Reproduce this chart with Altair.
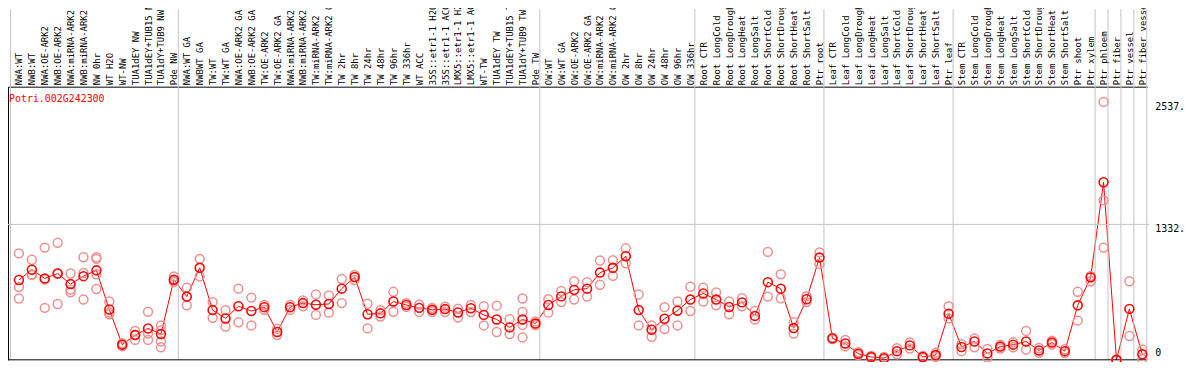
import json
import altair as alt
import pandas as pd

gene = "Potri.002G242300"

labels = [
    "NWA:WT", "NWB:WT", "NWA:OE-ARK2", "NWB:OE-ARK2", "NWA:miRNA-ARK2", "NWB:miRNA-ARK2",
    "NW 0hr", "WT H2O", "WT-NW", "TUA1dEY NW", "TUA1dEY+TUB15 NW", "TUA1dY+TUB9 NW", "Pde NW",
    "NWA:WT GA", "NWBWT GA", "TW:WT", "TW:WT GA", "NWA:OE-ARK2 GA", "NWB:OE-ARK2 GA",
    "TW:OE-ARK2", "TW:OE-ARK2 GA", "NWA:miRNA-ARK2 GA", "NWB:miRNA-ARK2 GA", "TW:miRNA-ARK2",
    "TW:miRNA-ARK2 GA", "TW 2hr", "TW 8hr", "TW 24hr", "TW 48hr", "TW 96hr", "TW 336hr",
    "WT ACC", "35S::etr1-1 H2O", "35S::etr1-1 ACC", "LMX5::etr1-1 H2O", "LMX5::etr1-1 ACC",
    "WT-TW", "TUA1dEY TW", "TUA1dEY+TUB15 TW", "TUA1dY+TUB9 TW", "Pde TW",
    "OW:WT", "OW:WT GA", "OW:OE-ARK2", "OW:OE-ARK2 GA", "OW:miRNA-ARK2", "OW:miRNA-ARK2 GA",
    "OW 2hr", "OW 8hr", "OW 24hr", "OW 48hr", "OW 96hr", "OW 336hr",
    "Root CTR", "Root LongCold", "Root LongDrought", "Root LongHeat", "Root LongSalt",
    "Root ShortCold", "Root ShortDrought", "Root ShortHeat", "Root ShortSalt", "Ptr root",
    "Leaf CTR", "Leaf LongCold", "Leaf LongDrought", "Leaf LongHeat", "Leaf LongSalt",
    "Leaf ShortCold", "Leaf ShortDrought", "Leaf ShortHeat", "Leaf ShortSalt", "Ptr leaf",
    "Stem CTR", "Stem LongCold", "Stem LongDrought", "Stem LongHeat", "Stem LongSalt",
    "Stem ShortCold", "Stem ShortDrought", "Stem ShortHeat", "Stem ShortSalt", "Ptr shoot",
    "Ptr xylem", "Ptr phloem", "Ptr fiber", "Ptr vessel", "Ptr fiber vessel",
]

group_sizes = [13, 28, 12, 10, 10, 11, 1, 1, 1, 1]

means = [
    785, 886, 801, 849, 745, 823, 880, 495, 149, 243, 309, 253, 788,
    622, 905, 489, 407, 527, 480, 518, 274, 518, 558, 542, 549, 700, 814, 448, 457, 574,
    539, 511, 492, 499, 466, 508, 442, 397, 319, 397, 357,
    539, 624, 688, 700, 858, 905, 1019, 489, 296, 404, 483, 593,
    653, 593, 520, 565, 432, 764, 700, 312, 596, 1006,
    211, 161, 60, 28, 16, 85, 142, 28, 47, 454,
    126, 180, 63, 130, 149, 180, 92, 170, 85, 536, 811,
    1747, 0, 501, 54,
]

reps = [
    [1047, 716, 603], [984, 835, 840], [1104, 511, 790], [1151, 549, 850], [849, 691, 665],
    [1009, 854, 593], [1009, 993, 842, 697], [574, 448, 465], [164, 132, 150], [284, 196, 248],
    [473, 258, 196], [338, 290, 180, 123], [820, 779, 765],
    [710, 536], [993, 820], [568, 413], [489, 328], [700, 369], [612, 338], [539, 492],
    [306, 243], [539, 492], [584, 527], [643, 442], [634, 464], [795, 558], [835, 785],
    [552, 309], [489, 426], [669, 473], [558, 520], [542, 470], [511, 473], [523, 470],
    [504, 416], [539, 470], [527, 338], [533, 274], [400, 253], [603, 470, 343, 220], [378, 341],
    [596, 464], [678, 568], [773, 593], [764, 622], [977, 738], [981, 826], [1097, 949],
    [643, 338], [338, 227], [518, 303], [574, 338], [719, 480],
    [710, 574], [662, 536], [574, 448], [606, 527], [480, 395], [1062, 622], [842, 606],
    [369, 258], [627, 568], [1057, 943],
    [218, 203], [196, 132], [76, 47], [38, 19], [28, 5], [114, 54], [170, 111], [38, 19],
    [69, 28], [527, 407],
    [154, 85], [211, 123], [107, 22], [149, 111], [173, 123], [284, 101], [116, 69],
    [189, 151], [104, 66], [669, 385], [826, 773],
    [2537, 1568, 1104], [0, 0], [773, 234], [101, 7],
]

y_ticks = [0, 1332, 2537]
y_tick_text = ["0", "1332.", "2537."]

# ---- layout / style ----
W, H = 1147, 275
PAD_TOP = 78
X_DOMAIN = [-0.846, 87.385]
Y_MAX = 2687
MONO = "DejaVu Sans Mono"
RED = "#ff0000"
PINK = "#ee9090"
GRAY = "#c4c4c4"

idx = list(range(len(labels)))
mean_df = pd.DataFrame({"i": idx, "label": labels, "v": means})
rep_df = pd.DataFrame([{"i": i, "v": v} for i, rs in enumerate(reps) for v in rs])

starts, s = [], 0
for g in group_sizes:
    starts.append(s)
    s += g
bounds = [st - 0.654 for st in starts] + [len(labels) - 1 + 0.346]
bound_df = pd.DataFrame({"b": bounds})

tick_df = pd.DataFrame({"v": y_ticks, "t": y_tick_text})

xs = alt.Scale(domain=X_DOMAIN, nice=False, zero=False)
ys = alt.Scale(domain=[0, Y_MAX], nice=False, zero=False)

label_expr = "[" + ",".join(json.dumps(l) for l in labels) + "][datum.value]"

top_axis = alt.Axis(
    orient="top", values=idx, labelExpr=label_expr, labelAngle=270,
    labelAlign="left", labelBaseline="middle", labelFont=MONO, labelFontSize=9,
    labelColor="black", labelPadding=2, labelOverlap=False, labelFlush=False,
    labelLimit=300, ticks=False, domain=True, domainColor="black", domainWidth=1,
    grid=False, title=None,
)
left_axis = alt.Axis(
    orient="left", labels=False, ticks=False, grid=False, domain=True,
    domainColor="black", domainWidth=1, title=None,
)


def X(field):
    return alt.X(field, scale=xs, axis=top_axis)


def Y(field):
    return alt.Y(field, scale=ys, axis=left_axis)


grid = alt.Chart(pd.DataFrame({"v": [y_ticks[1]]})).mark_rule(
    color=GRAY, strokeWidth=1
).encode(
    y=Y("v:Q"), x=alt.value(0), x2=alt.value(W + 2),
)

vlines = alt.Chart(bound_df).mark_rule(color=GRAY, strokeWidth=1).encode(
    x=X("b:Q"), y=alt.value(-PAD_TOP), y2=alt.value(H),
)

bottom = alt.Chart(pd.DataFrame({"v": [0]})).mark_rule(color="black", strokeWidth=1).encode(
    y=Y("v:Q"), x=alt.value(0), x2=alt.value(W),
)

rep_pts = alt.Chart(rep_df).mark_point(
    shape="circle", filled=False, size=80, strokeWidth=1.5, color=PINK, opacity=1
).encode(x=X("i:Q"), y=Y("v:Q"))

line = alt.Chart(mean_df).mark_line(color=RED, strokeWidth=1).encode(
    x=X("i:Q"), y=Y("v:Q"),
)

mean_pts = alt.Chart(mean_df).mark_point(
    shape="circle", filled=False, size=80, strokeWidth=1.6, color=RED, opacity=1
).encode(x=X("i:Q"), y=Y("v:Q"))

tick_top = alt.Chart(tick_df[tick_df["v"] > 0]).mark_text(
    align="left", baseline="top", font=MONO, fontSize=10, color="black"
).encode(
    y=Y("v:Q"), x=alt.value(W + 8), text="t:N",
)
tick_zero = alt.Chart(tick_df[tick_df["v"] == 0]).mark_text(
    align="left", baseline="bottom", font=MONO, fontSize=10, color="black", dy=-2
).encode(
    y=Y("v:Q"), x=alt.value(W + 8), text="t:N",
)

title_txt = alt.Chart(pd.DataFrame({"t": [gene]})).mark_text(
    align="left", baseline="middle", font=MONO, fontSize=10, color=RED
).encode(
    x=alt.value(1), y=alt.value(12), text="t:N",
)

chart = alt.layer(
    line, grid, vlines, bottom, rep_pts, mean_pts, tick_top, tick_zero, title_txt
).properties(
    width=W, height=H,
    autosize=alt.AutoSizeParams(type="none"),
    padding={"left": 0, "top": PAD_TOP, "right": 39, "bottom": 1},
    background="white",
).configure_view(stroke=None)

chart.save("out.html", embed_options={"renderer": "svg", "actions": False})
